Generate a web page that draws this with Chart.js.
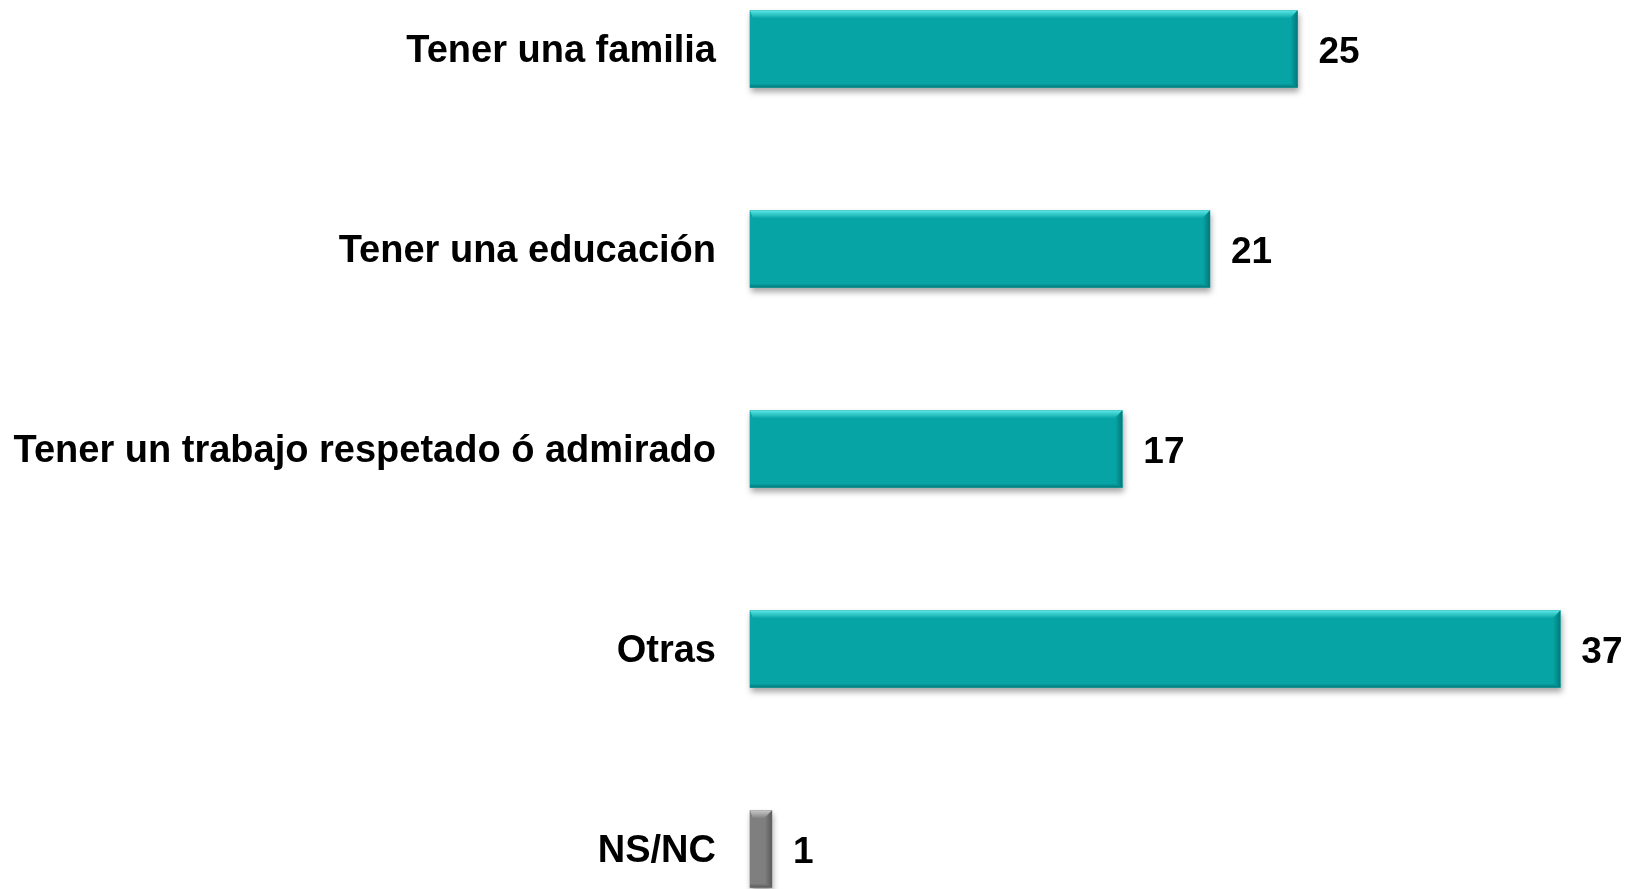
<!DOCTYPE html>
<html>
<head>
<meta charset="utf-8">
<script src="https://cdn.jsdelivr.net/npm/chart.js@4/dist/chart.umd.min.js"></script>
<style>
  html, body { margin: 0; padding: 0; background: #ffffff; overflow: hidden; }
  #wrap { width: 1641px; height: 889px; position: relative; }
</style>
</head>
<body>
<div id="wrap"><canvas id="c"></canvas></div>
<script>
// ---- data ----
const categories = [
  'Tener una familia',
  'Tener una educación',
  'Tener un trabajo respetado ó admirado',
  'Otras',
  'NS/NC'
];
const values = [25, 21, 17, 37, 1];
const valueLabels = ['25', '21', '17', '37', '1'];

// ---- styles ----
const fillColors = ['#06A4A4', '#06A4A4', '#06A4A4', '#06A4A4', '#7F7F7F'];
const lightColors = ['#5BE6E6', '#5BE6E6', '#5BE6E6', '#5BE6E6', '#C8C8C8'];
const darkColors = ['#04787A', '#04787A', '#04787A', '#04787A', '#5A5A5A'];

const shadowPlugin = {
  id: 'barShadow',
  beforeDatasetsDraw(chart) {
    const ctx = chart.ctx;
    ctx.save();
    ctx.shadowColor = 'rgba(0,0,0,0.35)';
    ctx.shadowBlur = 6;
    ctx.shadowOffsetX = 1;
    ctx.shadowOffsetY = 4;
  },
  afterDatasetsDraw(chart) {
    const ctx = chart.ctx;
    ctx.restore();
    const meta = chart.getDatasetMeta(0);
    meta.data.forEach((bar, i) => {
      const left = Math.min(bar.base, bar.x);
      const right = Math.max(bar.base, bar.x);
      const top = bar.y - bar.height / 2;
      const bottom = bar.y + bar.height / 2;
      const w = right - left;
      ctx.save();
      let g = ctx.createLinearGradient(0, top, 0, top + 8);
      g.addColorStop(0, lightColors[i]);
      g.addColorStop(1, fillColors[i]);
      ctx.fillStyle = g;
      ctx.beginPath();
      ctx.moveTo(left, top);
      ctx.lineTo(right, top);
      ctx.lineTo(right - Math.min(8, w / 2), top + 8);
      ctx.lineTo(left + Math.min(3, w / 2), top + 8);
      ctx.closePath();
      ctx.fill();
      g = ctx.createLinearGradient(0, bottom - 4, 0, bottom);
      g.addColorStop(0, fillColors[i]);
      g.addColorStop(1, darkColors[i]);
      ctx.fillStyle = g;
      ctx.fillRect(left, bottom - 4, w, 4);
      g = ctx.createLinearGradient(right - 7, 0, right, 0);
      g.addColorStop(0, fillColors[i]);
      g.addColorStop(1, darkColors[i]);
      ctx.fillStyle = g;
      ctx.beginPath();
      ctx.moveTo(right, top);
      ctx.lineTo(right, bottom);
      ctx.lineTo(right - Math.min(7, w / 2), bottom - 4);
      ctx.lineTo(right - Math.min(7, w / 2), top + 8);
      ctx.closePath();
      ctx.fill();
      ctx.restore();

      ctx.save();
      ctx.fillStyle = '#000000';
      ctx.font = 'bold 37px "Liberation Sans", Arial, sans-serif';
      ctx.textAlign = 'left';
      ctx.textBaseline = 'middle';
      ctx.fillText(valueLabels[i], right + 21, bar.y + 4);
      ctx.restore();
    });
  }
};

new Chart(document.getElementById('c'), {
  type: 'bar',
  data: {
    labels: categories,
    datasets: [{
      data: values,
      backgroundColor: fillColors,
      borderWidth: 0,
      barThickness: 77,
      clip: false
    }]
  },
  options: {
    indexAxis: 'y',
    responsive: true,
    maintainAspectRatio: false,
    animation: false,
    layout: { padding: { top: 49, bottom: 40, left: 0, right: 15 } },
    plugins: {
      legend: { display: false },
      tooltip: { enabled: false }
    },
    scales: {
      x: {
        display: false,
        min: 0,
        max: 40
      },
      y: {
        offset: false,
        grid: { display: false, drawTicks: false },
        border: { display: false },
        ticks: {
          color: '#000000',
          padding: 34,
          labelOffset: 3,
          font: { family: '"Liberation Sans", Arial, sans-serif', size: 38, weight: 'bold' }
        },
        afterFit(scale) {
          scale.width = 750;
          scale.paddingTop = 0;
          scale.paddingBottom = 0;
        }
      }
    }
  },
  plugins: [shadowPlugin]
});
</script>
</body>
</html>
